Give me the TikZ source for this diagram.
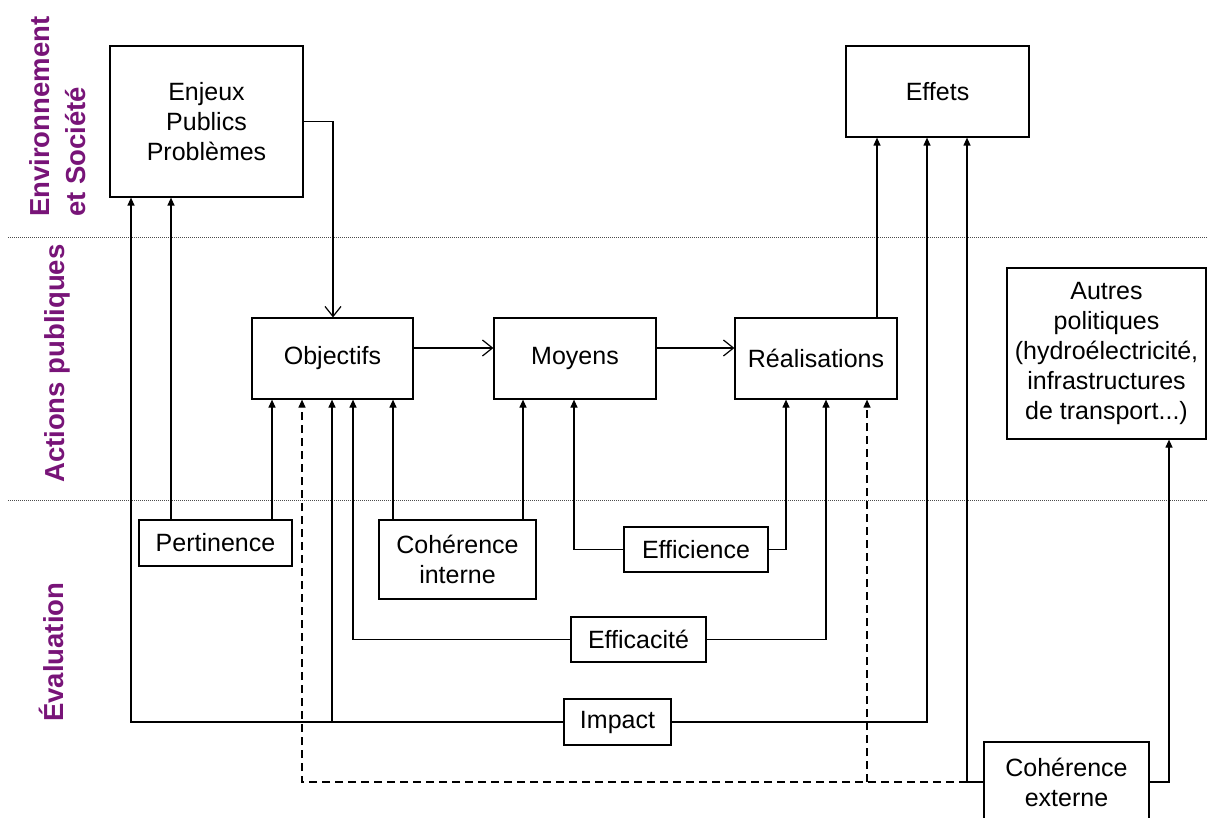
\documentclass[tikz,border=0pt]{standalone}
\usepackage{fontspec}
\setmainfont{Liberation Sans}
\usetikzlibrary{arrows.meta,calc}
\definecolor{lanecol}{RGB}{120,20,120}
\begin{document}
\begin{tikzpicture}[x=1pt,y=-1pt,
  box/.style={draw,fill=white,line width=1.2pt,inner sep=0pt,align=center,font=\fontsize{25}{30}\selectfont},
  lane/.style={rotate=90,anchor=west,text=lanecol,font=\bfseries\fontsize{27.5}{29}\selectfont,inner sep=0pt},
  conn/.style={line width=1.2pt},
  fa/.style={conn,-{Triangle[length=8pt,width=7pt]}},
  oa/.style={conn,-{Straight Barb[length=10pt,width=16pt]}},
  da/.style={fa,dash pattern=on 8pt off 5pt},
  sep/.style={line width=1pt,densely dotted,black!70}
]
\useasboundingbox (0,0) rectangle (1207,818);
\fill[white] (0,0) rectangle (1207,818);

% lane separators
\draw[sep] (8,238) -- (1207,238);
\draw[sep] (8,500) -- (1207,500);

% lane labels
\node[lane] (l1) at (40,217) {Environnement};
\node[lane] (l2) at (76,217) {et Société};
\node[lane] (l3) at (57,483) {Actions publiques};
\node[lane] (l4) at (51,722) {Évaluation};

% boxes
\node[box,minimum width=193pt,minimum height=151pt] (enj) at (206.5,121.5) {Enjeux\\Publics\\Problèmes};
\node[box,minimum width=183pt,minimum height=91pt] (eff) at (937.5,91.5) {Effets};
\node[box,minimum width=161pt,minimum height=81pt] (obj) at (332.5,358.5) {Objectifs};
\node[box,minimum width=162pt,minimum height=81pt] (moy) at (575,358.5) {Moyens};
\node[box,minimum width=162pt,minimum height=81pt] (rea) at (816,358.5) {Réalisations};
\node[box,minimum width=199pt,minimum height=171pt] (aut) at (1106.5,353.5) {Autres\\politiques\\(hydroélectricité,\\infrastructures\\de transport...)};
\node[box,minimum width=153pt,minimum height=46pt] (pert) at (215.5,543) {Pertinence};
\node[box,minimum width=157pt,minimum height=79pt] (cohi) at (457.5,559.5) {Cohérence\\interne};
\node[box,minimum width=144pt,minimum height=45pt] (effi) at (696,549.5) {Efficience};
\node[box,minimum width=135pt,minimum height=45pt] (effa) at (638.5,639.5) {Efficacité};
\node[box,minimum width=107pt,minimum height=46pt] (imp) at (617.5,722) {Impact};
\node[box,minimum width=165pt,minimum height=80pt] (cohe) at (1066.5,782) {Cohérence\\externe};

% main flow
\draw[oa] (enj.east) -- (333,0 |- enj.east) -- (333,0 |- obj.north);
\draw[oa] (obj.east |- 0,348) -- (moy.west |- 0,348);
\draw[oa] (moy.east |- 0,348) -- (rea.west |- 0,348);
\draw[fa] (877,0 |- rea.north) -- (877,0 |- eff.south);

% Pertinence
\draw[fa] (171,0 |- pert.north) -- (171,0 |- enj.south);
\draw[fa] (272,0 |- pert.north) -- (272,0 |- obj.south);
% Coherence interne
\draw[fa] (393,0 |- cohi.north) -- (393,0 |- obj.south);
\draw[fa] (523,0 |- cohi.north) -- (523,0 |- moy.south);
% Efficience
\draw[fa] (effi.west) -- (574,0 |- effi.west) -- (574,0 |- moy.south);
\draw[fa] (effi.east) -- (786,0 |- effi.east) -- (786,0 |- rea.south);
% Efficacite
\draw[fa] (effa.west) -- (353,0 |- effa.west) -- (353,0 |- obj.south);
\draw[fa] (effa.east) -- (826,0 |- effa.east) -- (826,0 |- rea.south);
% Impact
\draw[fa] (imp.west) -- (131,0 |- imp.west) -- (131,0 |- enj.south);
\draw[fa] (332,0 |- imp.west) -- (332,0 |- obj.south);
\draw[fa] (imp.east) -- (927,0 |- imp.east) -- (927,0 |- eff.south);
% Coherence externe
\coordinate (cj) at (967,0 |- cohe.west);
\draw[fa] (cohe.west) -- (cj) -- (967,0 |- eff.south);
\draw[da] (cj) -- (302,0 |- cohe.west) -- (302,0 |- obj.south);
\draw[da] (867,0 |- cohe.west) -- (867,0 |- rea.south);
\draw[fa] (cohe.east) -- (1169,0 |- cohe.east) -- (1169,0 |- aut.south);
\end{tikzpicture}
\end{document}
